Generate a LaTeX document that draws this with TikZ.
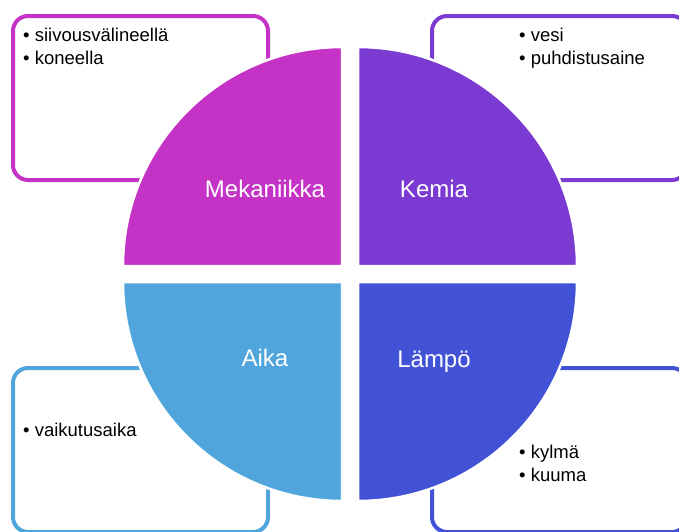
\documentclass[tikz,border=0pt]{standalone}
\usepackage{fontspec}
\setmainfont{Liberation Sans}
\definecolor{mekvari}{HTML}{C532C6}
\definecolor{kemvari}{HTML}{7B3AD2}
\definecolor{aikvari}{HTML}{50A6DC}
\definecolor{lamvari}{HTML}{4252D6}
\begin{document}
\begin{tikzpicture}[x=1pt, y=-1pt]
        % Tyylit
        \tikzset{laatikko/.style={fill=white, line width=4pt, rounded corners=15pt},
                 neljannes/.style={draw=white, line width=2.5pt},
                 otsikko/.style={text=white, font=\fontsize{24}{28}\selectfont, anchor=base, inner sep=0pt},
                 lista/.style={font=\fontsize{18.5}{23}\selectfont, anchor=base west, inner sep=0pt}}
        \useasboundingbox (0,0) rectangle (679,531);
        \clip (0,0) rectangle (679,531);

        % --- LAATIKOT ---
        \draw[laatikko, draw=mekvari] (13,16) rectangle (268,180);
        \draw[laatikko, draw=kemvari] (432,16) rectangle (687,180);
        \draw[laatikko, draw=aikvari] (13,368) rectangle (268,532);
        \draw[laatikko, draw=lamvari] (432,368) rectangle (687,532);

        % --- NELJÄNNEKSET ---
        \filldraw[neljannes, fill=mekvari] (342,266) -- ++(-219,0) arc[start angle=180, end angle=270, radius=219] -- cycle;
        \filldraw[neljannes, fill=kemvari] (358,266) -- ++(0,-219) arc[start angle=270, end angle=360, radius=219] -- cycle;
        \filldraw[neljannes, fill=aikvari] (342,282) -- ++(0,219) arc[start angle=90, end angle=180, radius=219] -- cycle;
        \filldraw[neljannes, fill=lamvari] (358,282) -- ++(219,0) arc[start angle=0, end angle=90, radius=219] -- cycle;

        % Otsikot
        \node[otsikko] (mek) at (265,197) {Mekaniikka};
        \node[otsikko] (kem) at (434,197) {Kemia};
        \node[otsikko] (aik) at (265,366) {Aika};
        \node[otsikko] (lam) at (434,367) {Lämpö};

        % Listat
        \node[lista] (mek1) at (23,41) {• siivousvälineellä};
        \node[lista] (mek2) at (23,64) {• koneella};
        \node[lista] (kem1) at (519,41) {• vesi};
        \node[lista] (kem2) at (519,64) {• puhdistusaine};
        \node[lista] (aik1) at (23,436) {• vaikutusaika};
        \node[lista] (lam1) at (519,458) {• kylmä};
        \node[lista] (lam2) at (519,481) {• kuuma};
\end{tikzpicture}
\end{document}
